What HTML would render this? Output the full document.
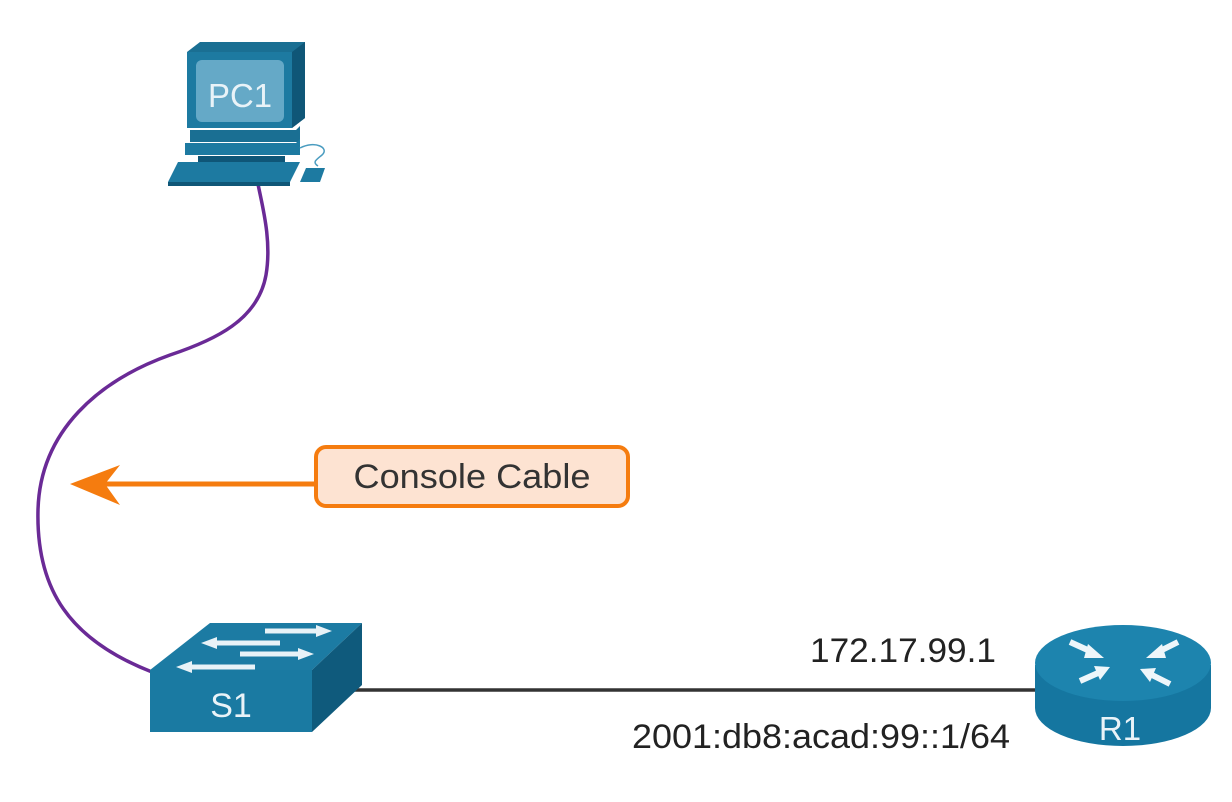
<!DOCTYPE html>
<html><head><meta charset="utf-8"><style>
html,body{margin:0;padding:0;background:#fff;}
svg{display:block;}
</style></head><body>
<svg width="1232" height="802" viewBox="0 0 1232 802" xmlns="http://www.w3.org/2000/svg" font-family="Liberation Sans, Arial, sans-serif">
<path d="M258,184 C262,205 272,240 266,275 C258,320 215,340 170,355 C100,380 40,430 38,510 C36,590 70,640 152,672" fill="none" stroke="#6a2a96" stroke-width="3.5"/>
<line x1="340" y1="690" x2="1040" y2="690" stroke="#333" stroke-width="3.5"/>
<g>
  <polygon points="187,52 200,42 305,42 305,118 292,128 187,128" fill="#1a6f93"/>
  <polygon points="292,52 305,42 305,118 292,128" fill="#0f5677"/>
  <rect x="187" y="52" width="105" height="76" fill="#1d7aa1"/>
  <rect x="196" y="60" width="88" height="62" rx="6" fill="#65a9c7"/>
  <text x="240" y="107" font-size="33" fill="#e9f3f8" text-anchor="middle" textLength="64" lengthAdjust="spacingAndGlyphs">PC1</text>
  <polygon points="190,130 296,130 300,126 300,142 190,142" fill="#1a6f93"/>
  <polygon points="185,143 296,143 300,139 300,155 185,155" fill="#1d7aa1"/>
  <polygon points="198,156 285,156 285,163 198,163" fill="#0f5677"/>
  <polygon points="178,162 300,162 290,182 168,182" fill="#1d7aa1"/>
  <polygon points="168,182 290,182 290,186 168,186" fill="#0f5677"/>
  <polygon points="306,168 325,168 320,182 300,182" fill="#1d7aa1"/>
  <path d="M300,148 C315,140 330,148 322,155 C316,160 312,162 318,166" fill="none" stroke="#4a9cc0" stroke-width="1.5"/>
</g>
<g>
  <polygon points="150,670 210,623 362,623 312,670" fill="#1c7ba3"/>
  <polygon points="312,670 362,623 362,685 312,732" fill="#0f5a7c"/>
  <rect x="150" y="670" width="162" height="62" fill="#1a7aa2"/>
  <text x="231" y="717" font-size="34" fill="#e9f3f8" text-anchor="middle">S1</text>
  <g stroke="#e8f2f7" stroke-width="5" fill="#e8f2f7">
    <line x1="265" y1="631" x2="318" y2="631"/><polygon points="332,631 316,625 316,637" stroke="none"/>
    <line x1="215" y1="643" x2="280" y2="643"/><polygon points="201,643 217,637 217,649" stroke="none"/>
    <line x1="240" y1="654" x2="300" y2="654"/><polygon points="314,654 298,648 298,660" stroke="none"/>
    <line x1="190" y1="667" x2="255" y2="667"/><polygon points="176,667 192,661 192,673" stroke="none"/>
  </g>
</g>
<g>
  <path d="M1035,665 L1035,708 A88,38 0 0 0 1211,708 L1211,665 Z" fill="#1576a0"/>
  <ellipse cx="1123" cy="663" rx="88" ry="38" fill="#1d84ae"/>
  <text x="1120" y="740" font-size="33" fill="#e9f3f8" text-anchor="middle">R1</text>
  <g stroke="#eef6fa" stroke-width="6" fill="#eef6fa">
    <line x1="1070" y1="642" x2="1092" y2="652"/><polygon points="1104,658 1088,644 1084,658" stroke="none"/>
    <line x1="1178" y1="642" x2="1158" y2="652"/><polygon points="1146,658 1162,644 1166,658" stroke="none"/>
    <line x1="1080" y1="681" x2="1098" y2="673"/><polygon points="1110,667 1094,666 1100,680" stroke="none"/>
    <line x1="1170" y1="684" x2="1152" y2="675"/><polygon points="1140,669 1156,668 1150,682" stroke="none"/>
  </g>
</g>
<text x="810" y="662" font-size="34" fill="#222" textLength="186" lengthAdjust="spacingAndGlyphs">172.17.99.1</text>
<text x="632" y="748" font-size="34" fill="#222" textLength="378" lengthAdjust="spacingAndGlyphs">2001:db8:acad:99::1/64</text>
<line x1="92" y1="484" x2="318" y2="484" stroke="#f57c0f" stroke-width="5"/>
<polygon points="70,484 120,465 105,484 120,505" fill="#f57c0f"/>
<rect x="316" y="447" width="312" height="59" rx="10" fill="#fde3d2" stroke="#f57c0f" stroke-width="4"/>
<text x="472" y="488" font-size="34" fill="#333" text-anchor="middle" textLength="237" lengthAdjust="spacingAndGlyphs">Console Cable</text>
</svg>
</body></html>
